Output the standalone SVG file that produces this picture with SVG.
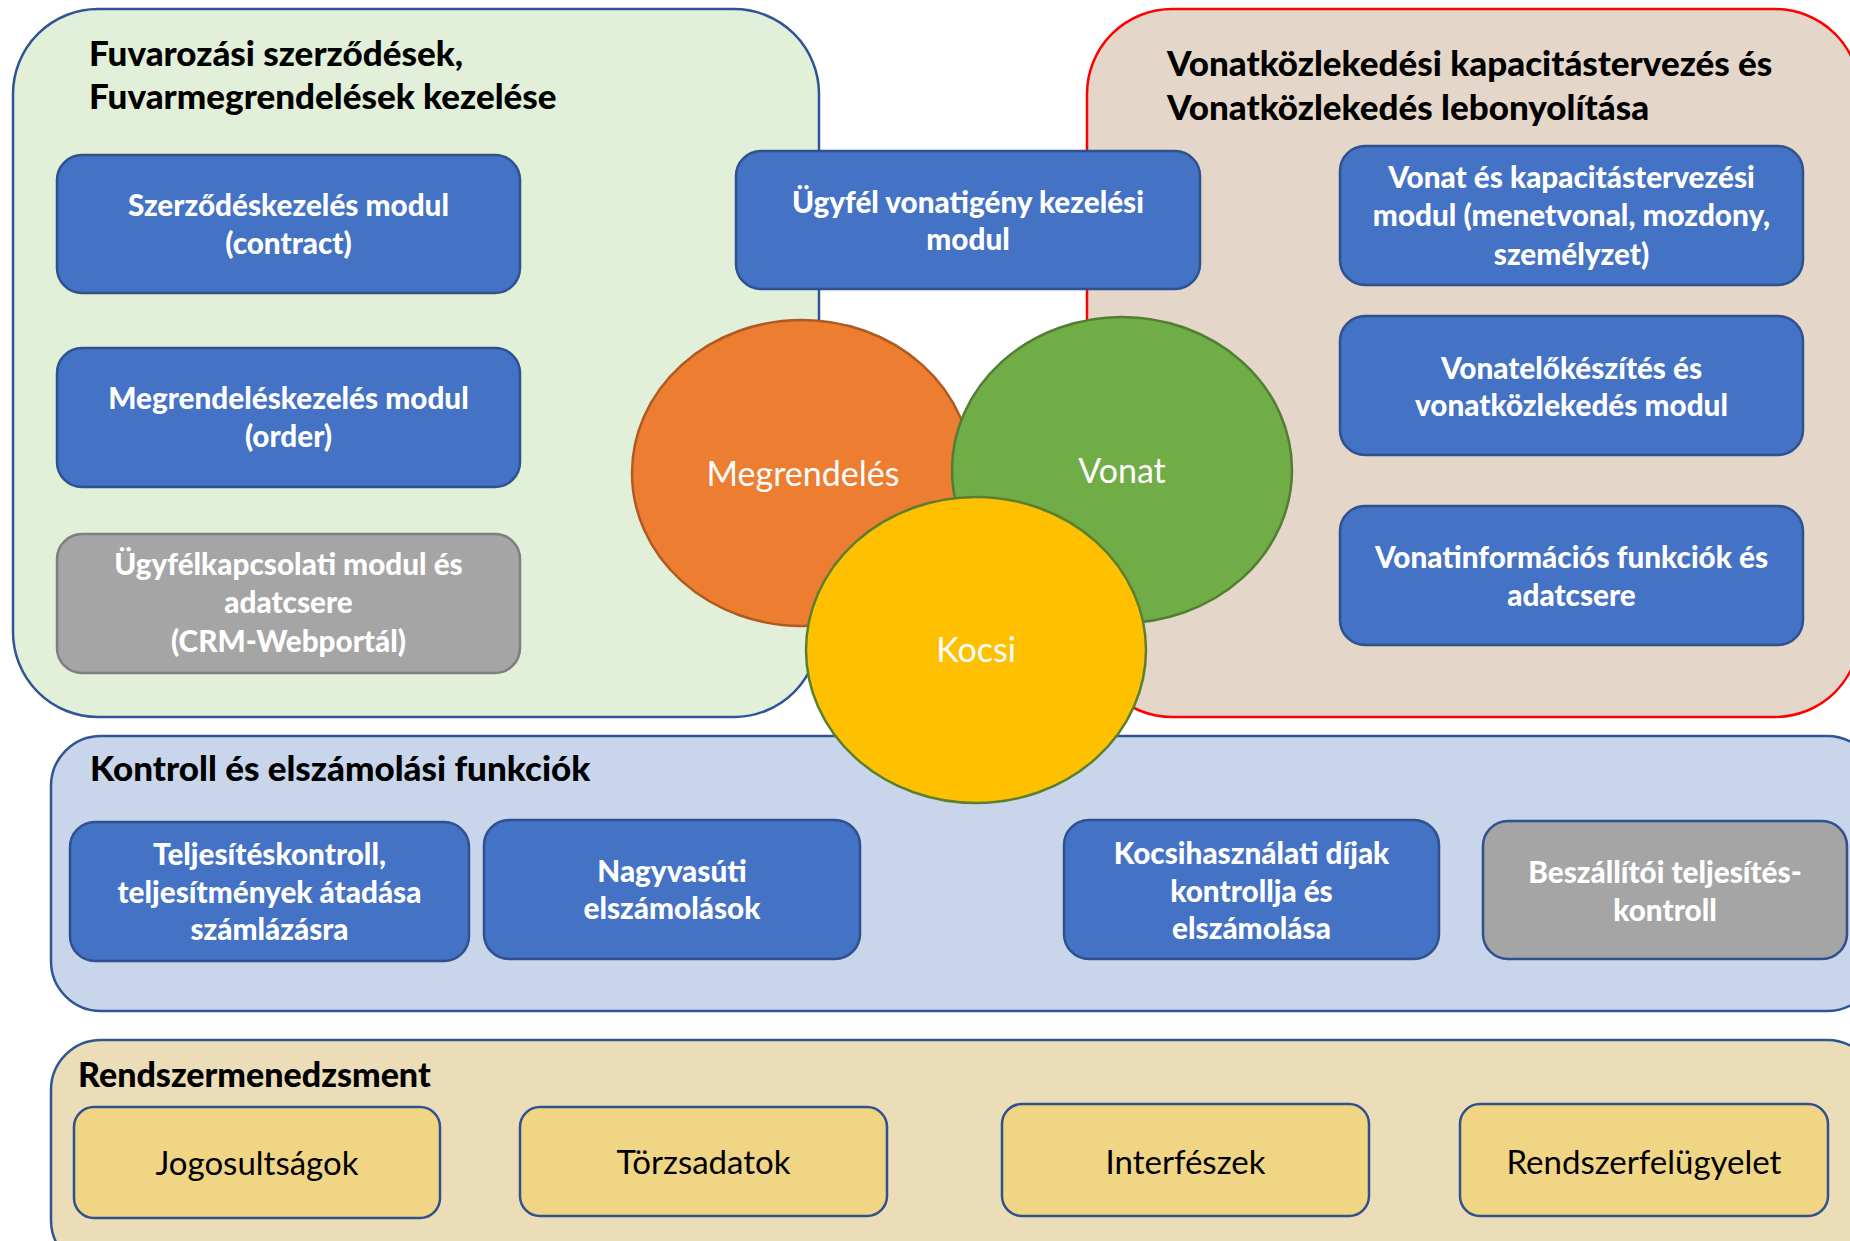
<svg xmlns="http://www.w3.org/2000/svg" width="1850" height="1241" viewBox="0 0 1850 1241">
<style>
.grp{stroke-width:2.5}
.title{font-family:Lato,"Liberation Sans",sans-serif;font-weight:900;fill:#000}
.t1{font-size:35px}
.t2{font-size:34px}
.node{stroke-width:2.5}
.blue{fill:#4472C4;stroke:#2F528F}
.gray{fill:#A5A5A5;stroke:#7F7F7F}
.gray2{fill:#A5A5A5;stroke:#2F528F}
.yel{fill:#F0D585;stroke:#2F528F}
.lbl{font-family:Lato,"Liberation Sans",sans-serif;font-weight:900;font-size:29.7px;fill:#fff;text-anchor:middle}
.lblr{font-family:Lato,"Liberation Sans",sans-serif;font-weight:400;font-size:33px;fill:#000;text-anchor:middle}
.circ{font-family:Lato,"Liberation Sans",sans-serif;font-weight:400;font-size:34px;fill:#fff;text-anchor:middle}
</style>
<rect width="1850" height="1241" fill="#fff"/>
<g id="group-fuvarozas">
<rect class="grp" x="13" y="9" width="806" height="708" rx="85" fill="#E2EFD9" stroke="#2F5597"/>
<text class="title t1" x="89" y="66">Fuvarozási szerződések,</text>
<text class="title t1" x="89" y="109">Fuvarmegrendelések kezelése</text>
</g>
<g id="group-vonatkozlekedes">
<rect class="grp" x="1087" y="9" width="773" height="708" rx="85" fill="#E5D6CA" stroke="#FF0000"/>
<text class="title t1" x="1167" y="76">Vonatközlekedési kapacitástervezés és</text>
<text class="title t1" x="1167" y="120">Vonatközlekedés lebonyolítása</text>
</g>
<g id="group-kontroll">
<rect class="grp" x="51" y="736" width="1826" height="275" rx="50" fill="#C8D5EA" stroke="#2F5597"/>
<text class="title t1" x="90" y="781">Kontroll és elszámolási funkciók</text>
</g>
<g id="group-rendszer">
<rect class="grp" x="51" y="1040" width="1826" height="230" rx="50" fill="#EADDB7" stroke="#2F5597"/>
<text class="title t2" x="78" y="1087">Rendszermenedzsment</text>
</g>
<g id="connectors"></g>
<g id="n-szerzodes">
<rect class="node blue" x="57" y="155" width="463" height="138" rx="25"/>
<text class="lbl" x="288.5" y="216">Szerződéskezelés modul</text>
<text class="lbl" x="288.5" y="254">(contract)</text>
</g>
<g id="n-megrendeles-modul">
<rect class="node blue" x="57" y="348" width="463" height="139" rx="25"/>
<text class="lbl" x="288.5" y="409">Megrendeléskezelés modul</text>
<text class="lbl" x="288.5" y="447">(order)</text>
</g>
<g id="n-crm">
<rect class="node gray" x="57" y="534" width="463" height="139" rx="25"/>
<text class="lbl" x="288.5" y="575">Ügyfélkapcsolati modul és</text>
<text class="lbl" x="288.5" y="613">adatcsere</text>
<text class="lbl" x="288.5" y="652">(CRM-Webportál)</text>
</g>
<g id="n-ugyfel-vonatigeny">
<rect class="node blue" x="736" y="151" width="464" height="138" rx="25"/>
<text class="lbl" x="968" y="213">Ügyfél vonatigény kezelési</text>
<text class="lbl" x="968" y="250">modul</text>
</g>
<g id="n-kapacitas">
<rect class="node blue" x="1340" y="146" width="463" height="139" rx="25"/>
<text class="lbl" x="1571.5" y="188">Vonat és kapacitástervezési</text>
<text class="lbl" x="1571.5" y="226">modul (menetvonal, mozdony,</text>
<text class="lbl" x="1571.5" y="265">személyzet)</text>
</g>
<g id="n-elokeszites">
<rect class="node blue" x="1340" y="316" width="463" height="139" rx="25"/>
<text class="lbl" x="1571.5" y="379">Vonatelőkészítés és</text>
<text class="lbl" x="1571.5" y="416">vonatközlekedés modul</text>
</g>
<g id="n-vonatinfo">
<rect class="node blue" x="1340" y="506" width="463" height="139" rx="25"/>
<text class="lbl" x="1571.5" y="568">Vonatinformációs funkciók és</text>
<text class="lbl" x="1571.5" y="606">adatcsere</text>
</g>
<g id="c-megrendeles">
<ellipse cx="802" cy="473" rx="170" ry="153" fill="#ED7D31" stroke="#AE5A21" stroke-width="2.5"/>
<text class="circ" x="803" y="486">Megrendelés</text>
</g>
<g id="c-vonat">
<ellipse cx="1122" cy="470" rx="170" ry="153" fill="#70AD47" stroke="#507E32" stroke-width="2.5"/>
<text class="circ" x="1122" y="483">Vonat</text>
</g>
<g id="c-kocsi">
<ellipse cx="976" cy="650" rx="170" ry="153" fill="#FFC000" stroke="#5B7F2E" stroke-width="2.5"/>
<text class="circ" x="976" y="662">Kocsi</text>
</g>
<g id="n-teljesites">
<rect class="node blue" x="70" y="822" width="399" height="139" rx="25"/>
<text class="lbl" x="269.5" y="865">Teljesítéskontroll,</text>
<text class="lbl" x="269.5" y="903">teljesítmények átadása</text>
<text class="lbl" x="269.5" y="940">számlázásra</text>
</g>
<g id="n-nagyvasuti">
<rect class="node blue" x="484" y="820" width="376" height="139" rx="25"/>
<text class="lbl" x="672" y="882">Nagyvasúti</text>
<text class="lbl" x="672" y="919">elszámolások</text>
</g>
<g id="n-kocsihasznalat">
<rect class="node blue" x="1064" y="820" width="375" height="139" rx="25"/>
<text class="lbl" x="1251.5" y="864">Kocsihasználati díjak</text>
<text class="lbl" x="1251.5" y="902">kontrollja és</text>
<text class="lbl" x="1251.5" y="939">elszámolása</text>
</g>
<g id="n-beszallitoi">
<rect class="node gray2" x="1483" y="821" width="364" height="138" rx="25"/>
<text class="lbl" x="1665" y="883">Beszállítói teljesítés-</text>
<text class="lbl" x="1665" y="921">kontroll</text>
</g>
<g id="n-jogosultsagok">
<rect class="node yel" x="74" y="1107" width="366" height="111" rx="20"/>
<text class="lblr" x="257" y="1175">Jogosultságok</text>
</g>
<g id="n-torzsadatok">
<rect class="node yel" x="520" y="1107" width="367" height="109" rx="20"/>
<text class="lblr" x="703.5" y="1174">Törzsadatok</text>
</g>
<g id="n-interfeszek">
<rect class="node yel" x="1002" y="1104" width="367" height="112" rx="20"/>
<text class="lblr" x="1185.5" y="1174">Interfészek</text>
</g>
<g id="n-rendszerfelugyelet">
<rect class="node yel" x="1460" y="1104" width="368" height="112" rx="20"/>
<text class="lblr" x="1644" y="1174">Rendszerfelügyelet</text>
</g>
</svg>
